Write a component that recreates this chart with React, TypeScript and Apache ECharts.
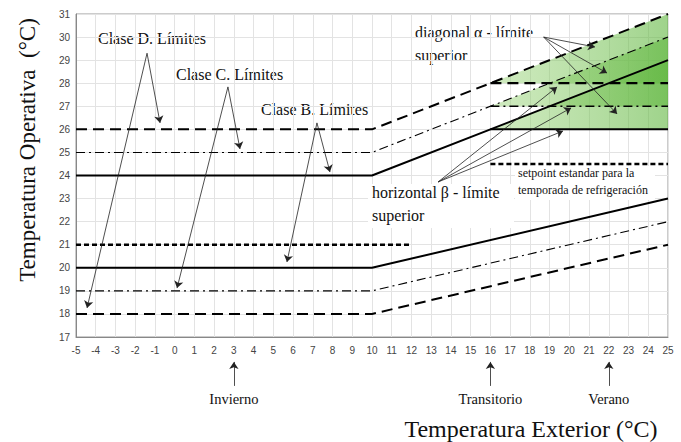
import React, { useEffect, useRef } from "react";
import * as echarts from "echarts";

// ---- data (°C) ----
const outdoorBreaks = [-5, 10, 25];
const classBUpper = [24, 24, 29];
const classBLower = [20, 20, 23];
const classCUpper = [25, 25, 30];
const classCLower = [19, 19, 22];
const classDUpper = [26, 26, 31];
const classDLower = [18, 18, 21];

const heatingSetpointX = [-5, 12];
const heatingSetpointY = [21, 21];
const coolingSetpointX = [16, 25];
const coolingSetpointY = [24.5, 24.5];

const betaX = [16, 25];
const betaB = [26, 26];
const betaC = [27, 27];
const betaD = [28, 28];

// alpha triangles (x, y vertices)
const alphaTriangleB = [[16, 26], [25, 26], [25, 29]];
const alphaTriangleC = [[16, 27], [25, 27], [25, 30]];
const alphaTriangleD = [[16, 28], [25, 28], [25, 31]];

const yMin = 17, yMax = 31, xMin = -5, xMax = 25;

// annotation arrows [from, to] in data units
const arrowsD = [[[-1.4, 29.3], [-0.74, 26.28]], [[-1.4, 29.3], [-4.44, 18.26]]];
const arrowsC = [[[2.7, 27.84], [3.31, 25.15]], [[2.7, 27.84], [0.12, 19.12]]];
const arrowsB = [[[7.21, 26.28], [7.87, 24.15]], [[7.21, 26.28], [5.69, 20.25]]];
const arrowsAlpha = [[[18.7, 30.0], [21.3, 29.57]], [[18.7, 30.0], [21.91, 28.44]], [[18.7, 30.0], [22.42, 26.67]]];
const arrowsBeta = [[[13.35, 23.72], [19.38, 27.84]], [[13.35, 23.72], [20.09, 26.93]], [[13.35, 23.72], [19.68, 25.93]]];
const seasonX = [3, 16, 22];
const seasonNames = ["Invierno", "Transitorio", "Verano"];
const seasonArrowFromY = 14.88;
const seasonArrowToY = 15.92;

const zip = (xs: number[], ys: number[]) => xs.map((x, i) => [x, ys[i]]);

const SERIF = "'Liberation Serif', 'DejaVu Serif', serif";

function lineSeries(name: string, data: number[][], type: any, width: number) {
  return {
    name,
    type: "line",
    data,
    symbol: "none",
    z: 5,
    lineStyle: { color: "#000", width, type, cap: "butt" },
  };
}

export default function App() {
  const ref = useRef<HTMLDivElement>(null);
  useEffect(() => {
    document.body.style.margin = "0";
    const chart = echarts.init(ref.current!, null, { renderer: "svg" });
    const dashLong = [11, 6];
    const dashDot = [9, 4, 2, 4];
    const dashShort = [5, 3];

    const tri = (name: string, pts: number[][]) => ({
      name,
      type: "custom",
      z: 2,
      data: [0],
      renderItem: (params: any, api: any) => ({
        type: "polygon",
        shape: { points: pts.map((p) => api.coord(p)) },
        style: {
          fill: new echarts.graphic.LinearGradient(0, 0, 1, 0, [
            { offset: 0, color: "rgba(150,210,115,0.45)" },
            { offset: 1, color: "rgba(95,182,62,0.6)" },
          ]),
        },
      }),
    });

    const arrowData = [...arrowsD, ...arrowsC, ...arrowsB, ...arrowsAlpha, ...arrowsBeta].map((c) => ({ coords: c }));
    const seasonArrows = seasonX.map((x) => ({ coords: [[x, seasonArrowFromY], [x, seasonArrowToY]] }));

    const option: any = {
      animation: false,
      grid: { left: 76, right: 13, top: 14, bottom: 105, show: true, borderColor: "#999", borderWidth: 1 },
      xAxis: {
        type: "value",
        min: xMin,
        max: xMax,
        interval: 1,
        axisLine: { onZero: false, lineStyle: { color: "#888" } },
        axisTick: { show: false },
        axisLabel: { color: "#444", fontSize: 10, fontFamily: "'Liberation Sans', Arial, sans-serif", margin: 8 },
        splitLine: { lineStyle: { color: "#e3e3e3" } },
      },
      yAxis: {
        type: "value",
        min: yMin,
        max: yMax,
        interval: 1,
        axisLine: { show: true, onZero: false, lineStyle: { color: "#888" } },
        axisTick: { show: false },
        axisLabel: { color: "#444", fontSize: 10, fontFamily: "'Liberation Sans', Arial, sans-serif", margin: 6 },
        splitLine: { lineStyle: { color: "#e3e3e3" } },
      },
      series: [
        tri("alphaB", alphaTriangleB),
        tri("alphaC", alphaTriangleC),
        tri("alphaD", alphaTriangleD),
        lineSeries("Clase B sup", zip(outdoorBreaks, classBUpper), "solid", 2),
        lineSeries("Clase B inf", zip(outdoorBreaks, classBLower), "solid", 2),
        lineSeries("Clase C sup", zip(outdoorBreaks, classCUpper), dashDot, 1.1),
        lineSeries("Clase C inf", zip(outdoorBreaks, classCLower), dashDot, 1.1),
        lineSeries("Clase D sup", zip(outdoorBreaks, classDUpper), dashLong, 2),
        lineSeries("Clase D inf", zip(outdoorBreaks, classDLower), dashLong, 2),
        lineSeries("Setpoint calefacción", zip(heatingSetpointX, heatingSetpointY), dashShort, 2.5),
        lineSeries("Setpoint refrigeración", zip(coolingSetpointX, coolingSetpointY), dashShort, 2.5),
        lineSeries("β B", zip(betaX, betaB), "solid", 2),
        lineSeries("β C", zip(betaX, betaC), dashDot, 1.6),
        lineSeries("β D", zip(betaX, betaD), dashLong, 2.2),
        {
          name: "anotaciones",
          type: "lines",
          coordinateSystem: "cartesian2d",
          z: 6,
          clip: false,
          symbol: ["none", "arrow"],
          symbolSize: 7,
          lineStyle: { color: "#222", width: 0.8, opacity: 1 },
          data: [...arrowData, ...seasonArrows],
        },
      ],
      graphic: [
        { type: "text", left: 98, top: 30, style: { text: "Clase D. Límites", font: `16px ${SERIF}`, fill: "#111" } },
        { type: "text", left: 176, top: 66, style: { text: "Clase C. Límites", font: `16px ${SERIF}`, fill: "#111" } },
        { type: "text", left: 261, top: 101, style: { text: "Clase B. Límites", font: `16px ${SERIF}`, fill: "#111" } },
        { type: "text", left: 415, top: 24, style: { text: "diagonal α - límite", font: `16px ${SERIF}`, fill: "#111" } },
        { type: "text", left: 415, top: 47, style: { text: "superior", font: `16px ${SERIF}`, fill: "#111" } },
        { type: "rect", left: 368, top: 184, shape: { width: 146, height: 44 }, style: { fill: "#fff" }, z: 3 },
        { type: "text", left: 372, top: 184, z: 4, style: { text: "horizontal β - límite", font: `16px ${SERIF}`, fill: "#111" } },
        { type: "text", left: 372, top: 207, z: 4, style: { text: "superior", font: `16px ${SERIF}`, fill: "#111" } },
        { type: "rect", left: 515, top: 166, shape: { width: 140, height: 34 }, style: { fill: "#fff" }, z: 3 },
        { type: "text", left: 518, top: 167, z: 4, style: { text: "setpoint estandar para la", font: `12px ${SERIF}`, fill: "#111" } },
        { type: "text", left: 518, top: 184, z: 4, style: { text: "temporada de refrigeración", font: `12px ${SERIF}`, fill: "#111" } },
        ...seasonNames.map((n, i) => ({
          type: "text",
          x: 76 + (seasonX[i] - xMin) * (592 / 30),
          y: 399,
          style: { text: n, font: `14.5px ${SERIF}`, fill: "#111", textAlign: "center", textVerticalAlign: "middle" },
        })),
        {
          type: "text",
          x: 531,
          y: 429,
          style: { text: "Temperatura Exterior (°C)", font: `24px ${SERIF}`, fill: "#111", textAlign: "center", textVerticalAlign: "middle" },
        },
        {
          type: "text",
          x: 27,
          y: 150,
          rotation: Math.PI / 2,
          style: { text: "Temperatura Operativa  (°C)", font: `23px ${SERIF}`, fill: "#111", textAlign: "center", textVerticalAlign: "middle" },
        },
      ],
    };
    chart.setOption(option);
    return () => chart.dispose();
  }, []);
  return <div ref={ref} style={{ width: 681, height: 442, position: "absolute", left: 0, top: 0, background: "#fff" }} />;
}
